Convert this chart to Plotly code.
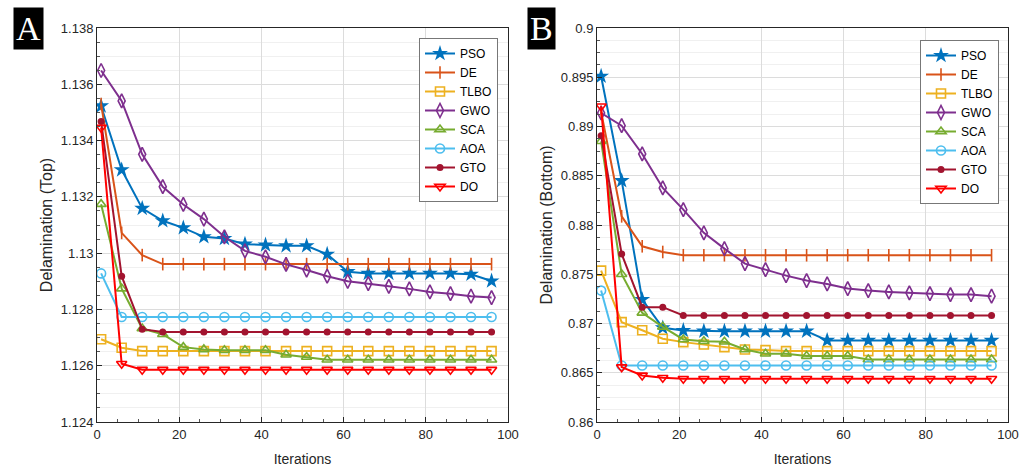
import plotly.graph_objects as go

iters = [1, 6, 11, 16, 21, 26, 31, 36, 41, 46, 51, 56, 61, 66, 71, 76, 81, 86, 91, 96]
names = ["PSO", "DE", "TLBO", "GWO", "SCA", "AOA", "GTO", "DO"]

# Panel A: Delamination (Top)
pso_a = [1.13523, 1.13296, 1.13159, 1.13115, 1.1309, 1.13058, 1.13052, 1.13032, 1.13029, 1.13026,
         1.13026, 1.12996, 1.12934, 1.12928, 1.12928, 1.12928, 1.12928, 1.12928, 1.12925, 1.12901]
de_a = [1.1353, 1.13072, 1.12993, 1.12961, 1.12961, 1.12961, 1.12961, 1.12961, 1.12961, 1.12961,
        1.12961, 1.12961, 1.12961, 1.12961, 1.12961, 1.12961, 1.12961, 1.12961, 1.12961, 1.12961]
tlbo_a = [1.12694, 1.12664, 1.12652, 1.12652, 1.12652, 1.12652, 1.12652, 1.12652, 1.12652, 1.12652,
          1.12652, 1.12652, 1.12652, 1.12652, 1.12652, 1.12652, 1.12652, 1.12652, 1.12652, 1.12652]
gwo_a = [1.13649, 1.13541, 1.13351, 1.13236, 1.13173, 1.13121, 1.13058, 1.13008, 1.12987, 1.1296,
         1.1294, 1.12918, 1.129, 1.12892, 1.12882, 1.12873, 1.12862, 1.12856, 1.12847, 1.12842]
sca_a = [1.13174, 1.12874, 1.12732, 1.12712, 1.12666, 1.12658, 1.12655, 1.12655, 1.12655, 1.12639,
         1.12631, 1.12621, 1.12621, 1.12621, 1.12621, 1.12621, 1.12621, 1.12621, 1.12621, 1.12621]
aoa_a = [1.12928, 1.12773, 1.12773, 1.12773, 1.12773, 1.12773, 1.12773, 1.12773, 1.12773, 1.12773,
         1.12773, 1.12773, 1.12773, 1.12773, 1.12773, 1.12773, 1.12773, 1.12773, 1.12773, 1.12773]
gto_a = [1.13468, 1.12918, 1.1273, 1.1272, 1.1272, 1.1272, 1.1272, 1.1272, 1.1272, 1.1272,
         1.1272, 1.1272, 1.1272, 1.1272, 1.1272, 1.1272, 1.1272, 1.1272, 1.1272, 1.1272]
do_a = [1.13446, 1.12607, 1.12586, 1.12586, 1.12586, 1.12586, 1.12586, 1.12586, 1.12586, 1.12586,
        1.12586, 1.12586, 1.12586, 1.12586, 1.12586, 1.12586, 1.12586, 1.12586, 1.12586, 1.12586]

# Panel B: Delamination (Bottom)
pso_b = [0.8951, 0.8845, 0.87243, 0.86956, 0.86929, 0.86922, 0.86922, 0.86922, 0.86922, 0.86922,
         0.86922, 0.86828, 0.86828, 0.86828, 0.86828, 0.86828, 0.86828, 0.86828, 0.86828, 0.86828]
de_b = [0.8915, 0.88088, 0.87784, 0.87726, 0.87693, 0.87693, 0.87693, 0.87693, 0.87693, 0.87693,
        0.87693, 0.87693, 0.87693, 0.87693, 0.87693, 0.87693, 0.87693, 0.87693, 0.87693, 0.87693]
tlbo_b = [0.87537, 0.87014, 0.86932, 0.86845, 0.86811, 0.86787, 0.8676, 0.86736, 0.8673, 0.8672,
          0.8672, 0.8672, 0.8672, 0.8672, 0.8672, 0.8672, 0.8672, 0.8672, 0.8672, 0.8672]
gwo_b = [0.89137, 0.89008, 0.88721, 0.88376, 0.88156, 0.8792, 0.8776, 0.87608, 0.87547, 0.87486,
         0.87436, 0.87402, 0.87355, 0.87334, 0.87321, 0.87311, 0.87304, 0.87294, 0.87294, 0.87277]
sca_b = [0.8885, 0.875, 0.87108, 0.86966, 0.86838, 0.8682, 0.86814, 0.86736, 0.86693, 0.86693,
         0.86669, 0.86669, 0.86669, 0.86635, 0.86635, 0.86635, 0.86635, 0.86635, 0.86635, 0.86635]
aoa_b = [0.87334, 0.86574, 0.86574, 0.86574, 0.86574, 0.86574, 0.86574, 0.86574, 0.86574, 0.86574,
         0.86574, 0.86574, 0.86574, 0.86574, 0.86574, 0.86574, 0.86574, 0.86574, 0.86574, 0.86574]
gto_b = [0.88907, 0.87706, 0.87166, 0.87166, 0.87081, 0.87081, 0.87081, 0.87081, 0.87081, 0.87081,
         0.87081, 0.87081, 0.87081, 0.87081, 0.87081, 0.87081, 0.87081, 0.87081, 0.87081, 0.87081]
do_b = [0.89205, 0.86557, 0.86473, 0.86449, 0.86439, 0.86439, 0.86439, 0.86439, 0.86439, 0.86439,
        0.86439, 0.86439, 0.86439, 0.86439, 0.86439, 0.86439, 0.86439, 0.86439, 0.86439, 0.86439]

yticks_a = [1.124, 1.126, 1.128, 1.13, 1.132, 1.134, 1.136, 1.138]
yticktext_a = ["1.124", "1.126", "1.128", "1.13", "1.132", "1.134", "1.136", "1.138"]
yticks_b = [0.86, 0.865, 0.87, 0.875, 0.88, 0.885, 0.89, 0.895, 0.9]
yticktext_b = ["0.86", "0.865", "0.87", "0.875", "0.88", "0.885", "0.89", "0.895", "0.9"]
xticks = [0, 20, 40, 60, 80, 100]

colors = ["#0072BD", "#D95319", "#EDB120", "#7E2F8E", "#77AC30", "#4DBEEE", "#A2142F", "#FF0000"]
symbols = ["star", "line-ns", "square-open", "diamond-tall-open", "triangle-up-open",
           "circle-open", "circle", "triangle-down-open"]
sizes = [12, 9, 9, 10, 9, 9, 7, 9]

series_a = [pso_a, de_a, tlbo_a, gwo_a, sca_a, aoa_a, gto_a, do_a]
series_b = [pso_b, de_b, tlbo_b, gwo_b, sca_b, aoa_b, gto_b, do_b]


def marker(i):
    w = 0 if symbols[i] in ("star", "circle") else 1.6
    return dict(symbol=symbols[i], size=sizes[i], color=colors[i],
                line=dict(width=w, color=colors[i]))


fig = go.Figure()
for i, name in enumerate(names):
    fig.add_trace(go.Scatter(x=iters, y=series_a[i], name=name, mode="lines+markers",
                             line=dict(color=colors[i], width=2), marker=marker(i),
                             xaxis="x", yaxis="y", legend="legend"))
for i, name in enumerate(names):
    fig.add_trace(go.Scatter(x=iters, y=series_b[i], name=name, mode="lines+markers",
                             line=dict(color=colors[i], width=2), marker=marker(i),
                             xaxis="x2", yaxis="y2", legend="legend2"))

W, H = 1030, 472
ydom = [1 - 422 / H, 1 - 28 / H]
axfont = dict(family="Liberation Sans, Arial", size=13, color="#262626")
ytitlefont = dict(family="Liberation Sans, Arial", size=16, color="#262626")
xtitlefont = dict(family="Liberation Sans, Arial", size=14, color="#262626")


def xaxis(domain, anchor):
    return dict(domain=domain, anchor=anchor, range=[0, 100], tickvals=xticks,
                showgrid=True, gridcolor="#dcdcdc", gridwidth=1, zeroline=False,
                showline=True, linecolor="#262626", linewidth=1, mirror=True,
                ticks="inside", ticklen=5, tickcolor="#262626", tickfont=axfont,
                title=dict(text="Iterations", font=xtitlefont, standoff=13), automargin=False,
                minor=dict(dtick=5, ticks="inside", ticklen=3, tickcolor="#555", showgrid=False))


def yaxis(domain, anchor, rng, tv, tt, mdt, title):
    return dict(domain=domain, anchor=anchor, range=rng, tickvals=tv, ticktext=tt,
                showgrid=True, gridcolor="#dcdcdc", gridwidth=1, zeroline=False,
                showline=True, linecolor="#262626", linewidth=1, mirror=True,
                ticks="inside", ticklen=5, tickcolor="#262626", tickfont=axfont,
                title=dict(text=title, font=ytitlefont, standoff=4), automargin=False,
                minor=dict(dtick=mdt, tick0=rng[0], ticks="inside", ticklen=3, tickcolor="#555",
                           showgrid=True, gridcolor="#f0f0f0", gridwidth=1))


legfont = dict(family="Liberation Sans, Arial", size=12, color="#000000")

fig.update_layout(
    width=W, height=H,
    margin=dict(l=0, r=0, t=0, b=0),
    paper_bgcolor="white", plot_bgcolor="white",
    xaxis=xaxis([97 / W, 508 / W], "y"),
    yaxis=yaxis(ydom, "x", [1.124, 1.138], yticks_a, yticktext_a, 0.0005, "Delamination (Top)"),
    xaxis2=xaxis([597 / W, 1008 / W], "y2"),
    yaxis2=yaxis(ydom, "x2", [0.86, 0.9], yticks_b, yticktext_b, 0.00125, "Delamination (Bottom)"),
    legend=dict(x=498 / W, y=1 - 38 / H, xanchor="right", yanchor="top",
                bgcolor="white", bordercolor="#777", borderwidth=1, font=legfont,
                tracegroupgap=0, itemsizing="trace"),
    legend2=dict(x=999 / W, y=1 - 40 / H, xanchor="right", yanchor="top",
                 bgcolor="white", bordercolor="#777", borderwidth=1, font=legfont,
                 tracegroupgap=0, itemsizing="trace"),
    annotations=[
        dict(text="A", x=13 / W, y=1 - 7 / H, xref="paper", yref="paper", xanchor="left",
             yanchor="top", showarrow=False, bgcolor="black",
             font=dict(family="Liberation Serif, DejaVu Serif", size=34, color="white"),
             borderpad=2),
        dict(text="B", x=527 / W, y=1 - 7 / H, xref="paper", yref="paper", xanchor="left",
             yanchor="top", showarrow=False, bgcolor="black",
             font=dict(family="Liberation Serif, DejaVu Serif", size=34, color="white"),
             borderpad=2),
    ],
)

fig.write_html("out.html", config={"displayModeBar": False},
               post_script="document.body.style.margin='0';")
